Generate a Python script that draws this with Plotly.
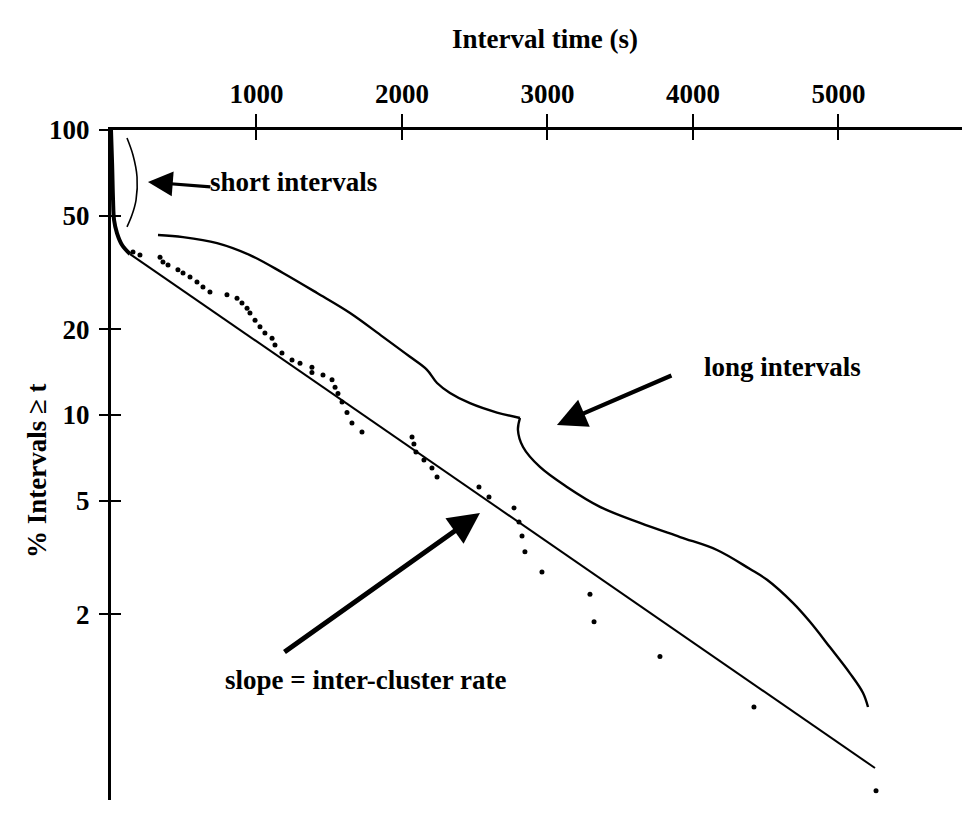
import math
import plotly.graph_objects as go

# ---------------- data ----------------
# early part of the survivor curve (thick line)
curve_t = [0, 8, 14, 21, 41, 76, 131]
curve_pct = [100, 75, 57, 48.3, 43.5, 39.5, 36.7]

# fitted straight line (slope = inter-cluster rate)
fit_t = [131, 5251]
fit_pct = [36.7, 0.577]

# observed intervals (dots)
dot_t = [151, 199, 337, 357, 392, 460, 495, 543, 591, 632, 680, 797, 866, 900,
         935, 955, 990, 1024, 1058, 1107, 1127, 1175, 1244, 1299, 1381, 1381,
         1457, 1519, 1540, 1560, 1588, 1622, 1656, 1725, 2069, 2082, 2096, 2151,
         2206, 2241, 2529, 2598, 2770, 2804, 2825, 2845, 2962, 3292, 3320, 3773,
         4419, 5258]
dot_pct = [37.3, 36.4, 35.8, 34.4, 33.6, 32.3, 31.5, 30.5, 29.3, 28.1, 27.0,
           26.4, 25.7, 24.7, 23.7, 22.8, 21.5, 20.4, 19.4, 18.6, 17.6, 16.5, 15.6,
           15.2, 14.7, 14.1, 13.8, 13.3, 12.5, 11.9, 11.1, 10.2, 9.37, 8.72, 8.37,
           7.91, 7.42, 6.95, 6.52, 6.06, 5.59, 5.16, 4.72, 4.21, 3.76, 3.31, 2.81,
           2.35, 1.88, 1.42, 0.945, 0.480]

# hand-drawn brackets
short_br_t = [110, 151, 179, 172, 144, 110]
short_br_pct = [93.7, 81.7, 68.4, 56.8, 50.3, 45.7]

long_br_up_t = [323, 495, 729, 955, 1182, 1416, 1643, 1869, 2055, 2172, 2241,
                2330, 2467, 2653, 2811]
long_br_up_pct = [42.8, 42.1, 40.1, 36.4, 31.5, 26.8, 22.8, 18.8, 16.0, 14.4,
                  12.95, 11.95, 11.0, 10.2, 9.76]
long_br_lo_t = [2811, 2797, 2832, 2948, 3134, 3361, 3636, 3911, 4165, 4392,
                4509, 4687, 4804, 4942, 5079, 5168, 5203]
long_br_lo_pct = [9.76, 8.86, 7.72, 6.57, 5.59, 4.76, 4.18, 3.73, 3.36, 2.88,
                  2.64, 2.19, 1.88, 1.53, 1.24, 1.06, 0.945]

x_ticks = [1000, 2000, 3000, 4000, 5000]
y_ticks = [2, 5, 10, 20, 50, 100]
y_ticktext = ["2", "5", "10", "20", "50", "100"]

FONT = "Liberation Serif"
BLACK = "black"

fig = go.Figure()
fig.add_trace(go.Scatter(x=fit_t, y=fit_pct, mode="lines",
                         line=dict(color=BLACK, width=2)))
fig.add_trace(go.Scatter(x=curve_t, y=curve_pct, mode="lines",
                         line=dict(color=BLACK, width=4, shape="spline")))
fig.add_trace(go.Scatter(x=dot_t, y=dot_pct, mode="markers",
                         marker=dict(color=BLACK, size=5)))
fig.add_trace(go.Scatter(x=short_br_t, y=short_br_pct, mode="lines",
                         line=dict(color=BLACK, width=1.6, shape="spline")))
fig.add_trace(go.Scatter(x=long_br_up_t, y=long_br_up_pct, mode="lines",
                         line=dict(color=BLACK, width=2.4, shape="spline")))
fig.add_trace(go.Scatter(x=long_br_lo_t, y=long_br_lo_pct, mode="lines",
                         line=dict(color=BLACK, width=2.4, shape="spline")))
# helper trace for the overlay axes carrying inner tick halves
fig.add_trace(go.Scatter(x=[], y=[], xaxis="x2", yaxis="y2", mode="markers"))

tickfont = dict(family=FONT, size=27, color=BLACK, weight="bold")

# page body has an 8px default margin, so the figure is 8px smaller
fig.update_layout(
    width=962, height=822,
    margin=dict(l=103, r=0, t=122, b=30, autoexpand=False),
    paper_bgcolor="white", plot_bgcolor="white",
    showlegend=False,
    xaxis=dict(range=[0, 5904], side="top", showline=True, linewidth=3,
               linecolor=BLACK, ticks="outside", ticklen=13, tickwidth=2,
               tickcolor=BLACK, tickvals=x_ticks, tickfont=tickfont,
               showgrid=False, zeroline=False, ticklabelstandoff=0,
               automargin=False),
    xaxis2=dict(overlaying="x", matches="x", side="top", anchor="y2",
                ticks="inside", ticklen=10, tickwidth=2, tickcolor=BLACK,
                tickvals=x_ticks, showticklabels=False, showline=False,
                showgrid=False, zeroline=False, automargin=False),
    yaxis=dict(type="log", range=[-0.351, 2], showline=True, linewidth=3,
               linecolor=BLACK, ticks="outside", ticklen=9, tickwidth=2,
               tickcolor=BLACK, tickvals=y_ticks, ticktext=y_ticktext,
               tickfont=tickfont, showgrid=False, zeroline=False,
               ticklabelstandoff=4, automargin=False),
    yaxis2=dict(type="log", overlaying="y", matches="y", side="left",
                anchor="x2", ticks="inside", ticklen=10, tickwidth=2,
                tickcolor=BLACK, tickvals=y_ticks, showticklabels=False,
                showline=False, showgrid=False, zeroline=False,
                automargin=False),
)

txt = dict(family=FONT, size=27, color=BLACK, weight="bold")
L = math.log10
annotations = [
    # axis titles
    dict(text="Interval time (s)", xref="paper", yref="paper", x=0.505, y=1.161,
         showarrow=False, font=txt),
    dict(text="% Intervals \u2265 t", xref="paper", yref="paper", x=-0.106, y=0.4925,
         textangle=-90, showarrow=False, font=txt),
    # labels
    dict(text="short intervals", x=667, y=L(65.7), xanchor="left",
         showarrow=False, font=txt),
    dict(text="long intervals", x=4062, y=L(14.7), xanchor="left",
         showarrow=False, font=txt),
    dict(text="slope = inter-cluster rate", x=1753, y=L(1.175),
         showarrow=False, font=txt),
    # arrows
    dict(text="", x=254, y=L(65.7), ax=64, ay=5, showarrow=True,
         arrowhead=2, arrowsize=1.55, arrowwidth=3.2, arrowcolor=BLACK),
    dict(text="", x=3065, y=L(9.23), ax=116, ay=-50, showarrow=True,
         arrowhead=2, arrowsize=1.4, arrowwidth=4.2, arrowcolor=BLACK),
    dict(text="", x=2536, y=L(4.53), ax=-197, ay=140, showarrow=True,
         arrowhead=2, arrowsize=1.25, arrowwidth=5, arrowcolor=BLACK),
]
fig.update_layout(annotations=annotations)

fig.write_html("out.html")
